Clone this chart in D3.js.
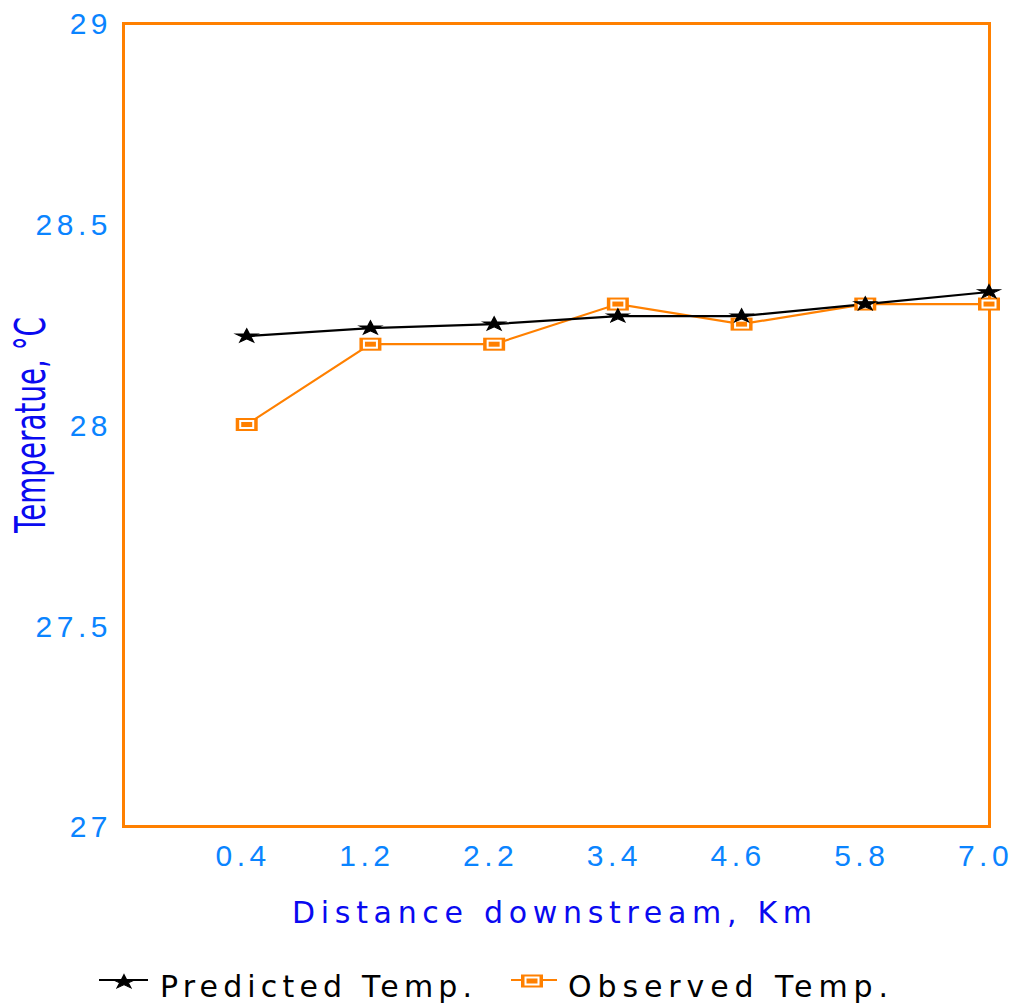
<!DOCTYPE html>
<html>
<head>
<meta charset="utf-8">
<script src="https://cdn.jsdelivr.net/npm/d3@7"></script>
<style>
  html, body { margin: 0; padding: 0; background: #ffffff; }
  svg { display: block; }
</style>
</head>
<body>
<div id="chart"></div>
<script>
// Stream temperature along the reach: model vs field measurement
const distances = ["0.4", "1.2", "2.2", "3.4", "4.6", "5.8", "7.0"];
const predictedTemp = [28.22, 28.24, 28.25, 28.27, 28.27, 28.30, 28.33];
const observedTemp  = [28.00, 28.20, 28.20, 28.30, 28.25, 28.30, 28.30];
const yTicks = [27, 27.5, 28, 28.5, 29];
const yTickLabels = ["27", "27.5", "28", "28.5", "29"];

const W = 1015, H = 1005;
const plot = { left: 123, top: 23, right: 989, bottom: 826 };

const tickBlue = "#0a84ff";
const titleBlue = "#0a0af0";
const orange = "#ff8000";

const svg = d3.select("#chart").append("svg")
  .attr("width", W).attr("height", H)
  .style("font-family", "'DejaVu Sans', sans-serif");

svg.append("rect").attr("width", W).attr("height", H).attr("fill", "#fff");

// category slots 1..7 on an index scale with slot 0 at the left frame
const x = d3.scaleLinear().domain([0, distances.length]).range([plot.left, plot.right]);
const xPos = i => x(i + 1);
const y = d3.scaleLinear().domain([27, 29]).range([plot.bottom, plot.top]);

// frame
svg.append("rect")
  .attr("x", plot.left).attr("y", plot.top)
  .attr("width", plot.right - plot.left).attr("height", plot.bottom - plot.top)
  .attr("fill", "none").attr("stroke", orange).attr("stroke-width", 3)
  .attr("shape-rendering", "crispEdges");

// y axis labels (no tick marks)
const yAxis = d3.axisLeft(y).tickValues(yTicks)
  .tickFormat((d, i) => yTickLabels[i]).tickSize(0).tickPadding(0);
const yAxisG = svg.append("g").attr("transform", `translate(${plot.left - 10},0)`).call(yAxis);
yAxisG.select(".domain").remove();
yAxisG.selectAll("text")
  .attr("fill", tickBlue).attr("font-size", 30).attr("letter-spacing", 4.5)
  .attr("dy", "0.36em").attr("x", -1);

// x axis labels
const xAxis = d3.axisBottom(x).tickValues(d3.range(1, distances.length + 1))
  .tickFormat(i => distances[i - 1]).tickSize(0).tickPadding(0);
const xAxisG = svg.append("g").attr("transform", `translate(0,${plot.bottom})`).call(xAxis);
xAxisG.select(".domain").remove();
xAxisG.selectAll("text")
  .attr("fill", tickBlue).attr("font-size", 30).attr("letter-spacing", 4.5)
  .attr("y", 40).attr("dy", 0).attr("dx", -4);

// axis titles
svg.append("text")
  .attr("x", 292).attr("y", 923)
  .attr("font-size", 30).attr("fill", titleBlue)
  .attr("textLength", 520).attr("lengthAdjust", "spacing")
  .text("Distance downstream, Km");

svg.append("text")
  .attr("transform", "translate(45,533) rotate(-90)")
  .attr("x", 0).attr("y", 0)
  .attr("font-size", 42).attr("fill", titleBlue)
  .attr("textLength", 216).attr("lengthAdjust", "spacingAndGlyphs")
  .text("Temperatue, °C");

// series lines
const line = d3.line().x((d, i) => xPos(i)).y(d => y(d));

svg.append("path").datum(observedTemp)
  .attr("d", line).attr("fill", "none")
  .attr("stroke", orange).attr("stroke-width", 2.2);

svg.append("path").datum(predictedTemp)
  .attr("d", line).attr("fill", "none")
  .attr("stroke", "#000").attr("stroke-width", 2.2);

// markers
const starPath = d3.symbol(d3.symbolStar, 150)();

function drawSquare(g) {
  g.append("rect").attr("x", -11).attr("y", -6.5).attr("width", 22).attr("height", 13)
    .attr("fill", orange);
  g.append("rect").attr("x", -6.5).attr("y", -3.5).attr("width", 13).attr("height", 7)
    .attr("fill", "none").attr("stroke", "#fff").attr("stroke-width", 2);
}
function drawStar(g) {
  g.append("path").attr("d", starPath).attr("transform", "scale(1.0,0.62)")
    .attr("fill", "#000").attr("stroke", "#000").attr("stroke-width", 1.5);
}

svg.append("g").selectAll("g").data(observedTemp).join("g")
  .attr("transform", (d, i) => `translate(${xPos(i)},${y(d)})`)
  .each(function() { drawSquare(d3.select(this)); });

svg.append("g").selectAll("g").data(predictedTemp).join("g")
  .attr("transform", (d, i) => `translate(${xPos(i)},${y(d)})`)
  .each(function() { drawStar(d3.select(this)); });

// legend
const legend = svg.append("g");
legend.append("line").attr("x1", 99).attr("x2", 148).attr("y1", 980).attr("y2", 980)
  .attr("stroke", "#000").attr("stroke-width", 2.2);
drawStar(legend.append("g").attr("transform", "translate(124,982)"));
legend.append("text").attr("x", 160).attr("y", 997)
  .attr("font-size", 30).attr("fill", "#000")
  .attr("textLength", 312).attr("lengthAdjust", "spacing")
  .text("Predicted Temp.");

legend.append("line").attr("x1", 511).attr("x2", 557).attr("y1", 980).attr("y2", 980)
  .attr("stroke", orange).attr("stroke-width", 2.2);
drawSquare(legend.append("g").attr("transform", "translate(532,981)"));
legend.append("text").attr("x", 568).attr("y", 997)
  .attr("font-size", 30).attr("fill", "#000")
  .attr("textLength", 320).attr("lengthAdjust", "spacing")
  .text("Observed Temp.");
</script>
</body>
</html>
